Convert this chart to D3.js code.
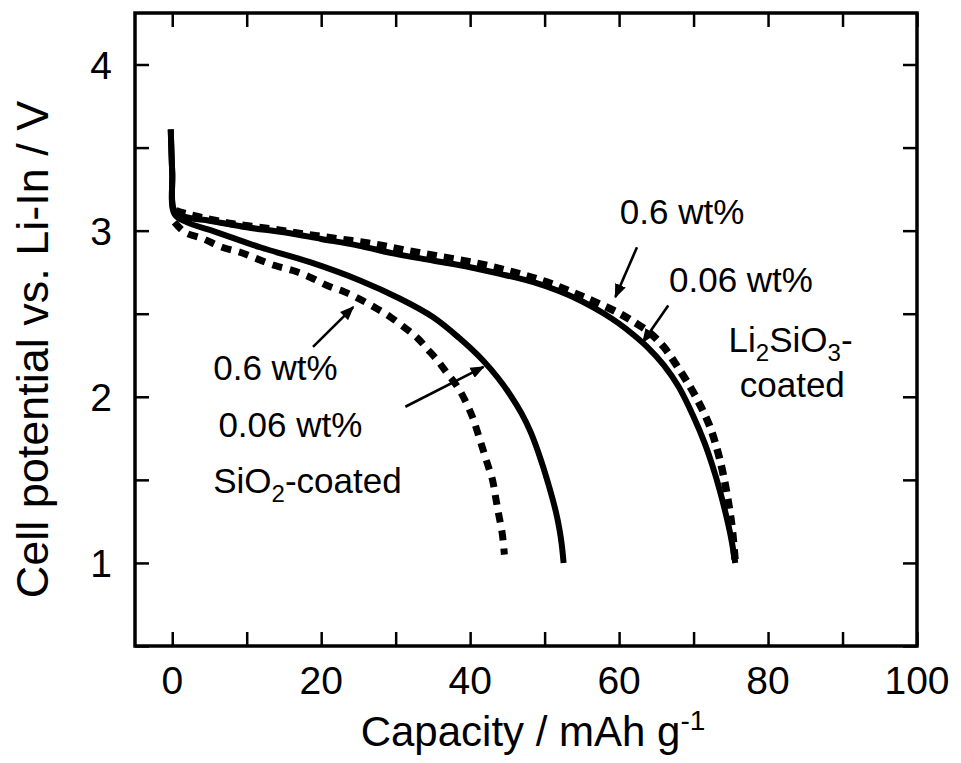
<!DOCTYPE html>
<html>
<head>
<meta charset="utf-8">
<script src="https://cdn.jsdelivr.net/npm/d3@7"></script>
<style>
  html, body { margin: 0; padding: 0; background: #fff; }
  svg { display: block; }
  text { font-family: "Liberation Sans", Arial, Helvetica, sans-serif; fill: #000; }
</style>
</head>
<body>
<svg id="chart" width="961" height="763"></svg>
<script>
// ---- Data (capacity mAh/g, potential V) ----
const li2sio3_006 = [[-0.2,3.61],[0,3.35],[0.3,3.12],[2,3.08],[5,3.06],[10,3.02],[15,2.99],[20,2.95],[25,2.91],[30,2.86],[35,2.82],[40,2.78],[44,2.74],[48.5,2.69],[52,2.635],[55,2.575],[58,2.50],[60,2.44],[62,2.37],[64,2.29],[66,2.19],[68,2.06],[70,1.88],[71.5,1.72],[72.5,1.59],[73.5,1.44],[74.3,1.30],[75,1.16],[75.6,1.00]];
const li2sio3_06 = [[0.5,3.12],[1.1,3.11],[3.8,3.08],[8.2,3.04],[13.2,3.01],[17.6,2.98],[22.3,2.95],[27,2.92],[31.5,2.88],[36.4,2.84],[41.3,2.80],[45.8,2.75],[50.3,2.69],[55,2.605],[59.7,2.51],[62,2.45],[64,2.39],[66,2.30],[68,2.17],[69.8,2.04],[71.1,1.93],[72.2,1.82],[73,1.71],[73.7,1.59],[74.3,1.46],[74.8,1.33],[75.2,1.20],[75.6,1.00]];
const sio2_006 = [[-0.2,3.61],[0,3.35],[0.3,3.10],[2,3.05],[6,2.99],[11.8,2.90],[18.5,2.81],[25.2,2.70],[30.6,2.59],[35,2.48],[38.5,2.355],[41.7,2.22],[43.8,2.11],[45.4,2.01],[46.9,1.90],[48.1,1.79],[49.5,1.62],[50.6,1.46],[51.5,1.31],[52.0,1.20],[52.3,1.11],[52.55,1.00]];
const sio2_06 = [[0.3,3.05],[1.7,2.99],[4.2,2.95],[6.7,2.90],[9.1,2.87],[11.4,2.83],[13.8,2.79],[16.2,2.76],[18.5,2.72],[20.8,2.67],[23.2,2.63],[25.5,2.58],[27.5,2.53],[29.3,2.48],[31.4,2.41],[33,2.35],[34.2,2.29],[35.6,2.22],[36.6,2.16],[38.3,2.06],[39.3,1.98],[40.3,1.88],[40.9,1.80],[41.6,1.70],[42.3,1.60],[43,1.50],[43.4,1.40],[43.8,1.30],[44.3,1.18],[44.6,1.05]];

const xTickValues = [0,10,20,30,40,50,60,70,80,90,100];
const xTickLabels = ["0","20","40","60","80","100"];
const yTickValues = [0.5,1,1.5,2,2.5,3,3.5,4];
const yTickLabels = ["1","2","3","4"];

// ---- Scales ----
const svg = d3.select("#chart");
const x = d3.scaleLinear().domain([-5, 100]).range([135, 917]);
const y = d3.scaleLinear().domain([0.5, 4.31]).range([646, 13]);

const line = d3.line().x(d => x(d[0])).y(d => y(d[1])).curve(d3.curveCatmullRom.alpha(0.5));

// ---- Curves ----
const series = [
  {data: li2sio3_006, dash: null, w: 6},
  {data: sio2_006, dash: null, w: 6},
  {data: li2sio3_06, dash: "10,7", w: 7.5},
  {data: sio2_06, dash: "10,8", w: 7}
];
svg.append("g").selectAll("path").data(series).join("path")
  .attr("d", d => line(d.data))
  .attr("fill", "none")
  .attr("stroke", "#000")
  .attr("stroke-width", d => d.w)
  .attr("stroke-dasharray", d => d.dash)
  .attr("stroke-linejoin", "round");

// ---- Axes (inward ticks, boxed) ----
const tickLen = 14;
const gx = svg.append("g").attr("transform", `translate(0,${y(0.5)})`)
  .call(d3.axisBottom(x).tickValues(xTickValues).tickSizeInner(-tickLen).tickSizeOuter(0).tickFormat(""));
const gxTop = svg.append("g").attr("transform", `translate(0,${y(4.31)})`)
  .call(d3.axisTop(x).tickValues(xTickValues).tickSizeInner(-tickLen).tickSizeOuter(0).tickFormat(""));
const gy = svg.append("g").attr("transform", `translate(${x(-5)},0)`)
  .call(d3.axisLeft(y).tickValues(yTickValues).tickSizeInner(-tickLen).tickSizeOuter(0).tickFormat(""));
const gyR = svg.append("g").attr("transform", `translate(${x(100)},0)`)
  .call(d3.axisRight(y).tickValues(yTickValues).tickSizeInner(-tickLen).tickSizeOuter(0).tickFormat(""));
[gx, gxTop, gy, gyR].forEach(g => {
  g.select(".domain").remove();
  g.selectAll(".tick line").attr("stroke", "#000").attr("stroke-width", 2.5);
});

// frame
svg.append("rect")
  .attr("x", x(-5)).attr("y", y(4.31))
  .attr("width", x(100) - x(-5)).attr("height", y(0.5) - y(4.31))
  .attr("fill", "none").attr("stroke", "#000").attr("stroke-width", 3.5);

// tick labels
svg.append("g").selectAll("text").data(xTickLabels).join("text")
  .attr("x", d => x(+d)).attr("y", 694)
  .attr("text-anchor", "middle").attr("font-size", 39)
  .text(d => d);
svg.append("g").selectAll("text").data(yTickLabels).join("text")
  .attr("x", 112).attr("y", d => y(+d) + 14)
  .attr("text-anchor", "end").attr("font-size", 39)
  .text(d => d);

// axis titles
const xt = svg.append("text").attr("x", 533).attr("y", 746)
  .attr("text-anchor", "middle").attr("font-size", 42);
xt.append("tspan").text("Capacity / mAh g");
xt.append("tspan").attr("dy", -16).attr("font-size", 28).text("-1");

svg.append("text")
  .attr("transform", `translate(48,${(y(0.5)+y(4.31))/2 + 20}) rotate(-90)`)
  .attr("text-anchor", "middle").attr("font-size", 45)
  .text("Cell potential vs. Li-In / V");

// ---- Annotations ----
const defs = svg.append("defs");
defs.append("marker").attr("id", "ah").attr("viewBox", "0 0 10 10")
  .attr("refX", 9).attr("refY", 5).attr("markerWidth", 5.5).attr("markerHeight", 5.5)
  .attr("markerUnits", "strokeWidth").attr("orient", "auto")
  .append("path").attr("d", "M0,1 L10,5 L0,9 Z").attr("fill", "#000");

const arrows = [
  {from: [62.4, 2.90], to: [59.5, 2.60]},
  {from: [66.6, 2.55], to: [63.2, 2.33]},
  {from: [18.9, 2.30], to: [24.3, 2.54]},
  {from: [31.3, 1.94], to: [41.8, 2.18]}
];
svg.append("g").selectAll("line").data(arrows).join("line")
  .attr("x1", d => x(d.from[0])).attr("y1", d => y(d.from[1]))
  .attr("x2", d => x(d.to[0])).attr("y2", d => y(d.to[1]))
  .attr("stroke", "#000").attr("stroke-width", 2.6)
  .attr("marker-end", "url(#ah)");

const labelSize = 35;
function label(cx, cv, parts) {
  const t = svg.append("text").attr("x", x(cx)).attr("y", y(cv)).attr("font-size", labelSize);
  parts.forEach(p => {
    const s = t.append("tspan").text(p.t);
    if (p.sub) s.attr("font-size", 24).attr("dy", 9);
    if (p.back) s.attr("dy", -9);
  });
}
label(60.1, 3.04, [{t: "0.6 wt%"}]);
label(66.7, 2.63, [{t: "0.06 wt%"}]);
label(74.7, 2.27, [{t: "Li"}, {t: "2", sub: true}, {t: "SiO", back: true}, {t: "3", sub: true}, {t: "-", back: true}]);
label(76.2, 2.00, [{t: "coated"}]);
label(5.5, 2.10, [{t: "0.6 wt%"}]);
label(6.2, 1.76, [{t: "0.06 wt%"}]);
label(5.5, 1.42, [{t: "SiO"}, {t: "2", sub: true}, {t: "-coated", back: true}]);
</script>
</body>
</html>
